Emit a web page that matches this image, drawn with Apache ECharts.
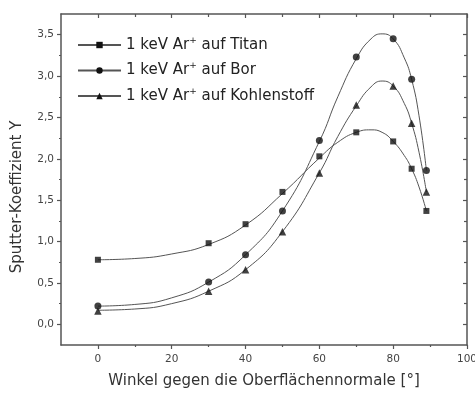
<!DOCTYPE html>
<html>
<head>
<meta charset="utf-8">
<script src="https://cdn.jsdelivr.net/npm/echarts@6/dist/echarts.min.js"></script>
<style>
  html, body { margin: 0; padding: 0; background: #fff; }
  #chart { width: 475px; height: 394px; }
</style>
</head>
<body>
<div id="chart"></div>
<script>
// Measured sputter yields (1 keV Ar+) vs. angle of incidence
const angles = [0, 30, 40, 50, 60, 70, 80, 85, 89];
const titan = [0.78, 0.98, 1.21, 1.60, 2.03, 2.32, 2.21, 1.88, 1.37];
const bor = [0.22, 0.51, 0.84, 1.37, 2.22, 3.23, 3.45, 2.96, 1.86];
const kohlenstoff = [0.16, 0.40, 0.66, 1.12, 1.83, 2.65, 2.88, 2.43, 1.60];

// Fitted curves through the measurements
const fitAngles = [0, 10, 20, 30, 40, 50, 60, 65, 70, 74, 77, 80, 83, 85, 87, 89];
const titanFit = [0.78, 0.795, 0.85, 0.965, 1.20, 1.58, 2.01, 2.20, 2.32, 2.35, 2.32, 2.21, 2.04, 1.88, 1.66, 1.37];
const borFit = [0.22, 0.24, 0.32, 0.51, 0.84, 1.37, 2.21, 2.75, 3.21, 3.45, 3.51, 3.45, 3.22, 2.96, 2.52, 1.86];
const kohlenstoffFit = [0.17, 0.185, 0.25, 0.40, 0.66, 1.12, 1.83, 2.27, 2.64, 2.87, 2.94, 2.88, 2.67, 2.43, 2.08, 1.60];

// Axis ticks
const xMajor = [0, 20, 40, 60, 80, 100];
const xMinor = [10, 30, 50, 70, 90];
const yMajor = [0, 0.5, 1.0, 1.5, 2.0, 2.5, 3.0, 3.5];
const yMinor = [0.25, 0.75, 1.25, 1.75, 2.25, 2.75, 3.25];

const seriesNames = ['Titan', 'Bor', 'Kohlenstoff'];
const xTitle = 'Winkel gegen die Oberflächennormale [°]';
const yTitle = 'Sputter-Koeffizient Y';

const FONT = 'DejaVu Sans';
const frameColor = '#555';
const curveColor = '#555';
const markColor = '#111';

const pairs = (xs, ys) => xs.map((x, i) => [x, ys[i]]);

function axisLine(show) {
  return { show: show, onZero: false, lineStyle: { color: frameColor, width: 1.5 } };
}
function xAxisDef(position, ticks, len, inside, showLine, extra) {
  return Object.assign({
    type: 'value', position: position, min: -10, max: 100,
    axisLine: axisLine(showLine),
    axisTick: { show: true, inside: inside, length: len, customValues: ticks,
                lineStyle: { color: frameColor, width: 1.2 } },
    axisLabel: { show: false },
    splitLine: { show: false }
  }, extra || {});
}
function yAxisDef(position, ticks, len, inside, showLine, extra) {
  return Object.assign({
    type: 'value', position: position, min: -0.25, max: 3.75,
    axisLine: axisLine(showLine),
    axisTick: { show: true, inside: inside, length: len, customValues: ticks,
                lineStyle: { color: frameColor, width: 1.2 } },
    axisLabel: { show: false },
    splitLine: { show: false }
  }, extra || {});
}

const fits = [titanFit, borFit, kohlenstoffFit];
const points = [titan, bor, kohlenstoff];
const symbols = ['rect', 'circle', 'triangle'];
const sizes = [6, 7, 7.5];

const series = [];
seriesNames.forEach((name, i) => {
  series.push({
    name: name, type: 'line', xAxisIndex: 0, yAxisIndex: 0,
    data: pairs(fitAngles, fits[i]),
    smooth: 0.5, symbol: symbols[i], showSymbol: false, symbolSize: sizes[i],
    lineStyle: { color: curveColor, width: 1 },
    itemStyle: { color: markColor },
    silent: true, z: 2
  });
});
seriesNames.forEach((name, i) => {
  series.push({
    name: name, type: 'scatter', xAxisIndex: 0, yAxisIndex: 0,
    data: pairs(angles, points[i]),
    symbol: symbols[i], symbolSize: sizes[i],
    itemStyle: { color: markColor },
    z: 3
  });
});

const chart = echarts.init(document.getElementById('chart'), null, { renderer: 'canvas' });
chart.setOption({
  animation: false,
  backgroundColor: '#fff',
  grid: { left: 61, right: 8, top: 14, bottom: 49, outerBoundsMode: 'none', containLabel: false },
  xAxis: [
    xAxisDef('bottom', xMajor, 4, false, true, {
      axisLabel: { show: true, customValues: xMajor, margin: 9,
                   fontFamily: FONT, fontSize: 10.5, color: '#444' },
      name: xTitle, nameLocation: 'middle', nameGap: 29,
      nameTextStyle: { fontFamily: FONT, fontSize: 15, color: '#333' }
    }),
    xAxisDef('top', xMajor, 4, true, true),
    xAxisDef('bottom', xMinor, 2, false, false),
    xAxisDef('top', xMinor, 3, true, false)
  ],
  yAxis: [
    yAxisDef('left', yMajor, 4, false, true, {
      axisLabel: { show: true, customValues: yMajor, margin: 7,
                   fontFamily: FONT, fontSize: 10.5, color: '#444',
                   formatter: v => v.toFixed(1).replace('.', ',') }
    }),
    yAxisDef('right', yMajor, 4, true, true),
    yAxisDef('left', yMinor, 2, false, false),
    yAxisDef('right', yMinor, 3, true, false)
  ],
  legend: {
    orient: 'vertical', left: 72, top: 31,
    itemWidth: 43, itemHeight: 8, itemGap: 7.5,
    data: seriesNames,
    selectedMode: false,
    formatter: name => '1 keV Ar{sup|+} auf ' + name,
    textStyle: {
      fontFamily: FONT, fontSize: 15, color: '#222', lineHeight: 18,
      rich: { sup: { fontFamily: FONT, fontSize: 9, lineHeight: 8, verticalAlign: 'top', color: '#222' } }
    }
  },
  graphic: [{
    type: 'text', x: 17, y: 197, rotation: Math.PI / 2,
    style: { text: yTitle, fontFamily: FONT, fontSize: 15, fill: '#333',
             align: 'center', verticalAlign: 'middle' }
  }],
  series: series
});
</script>
</body>
</html>
